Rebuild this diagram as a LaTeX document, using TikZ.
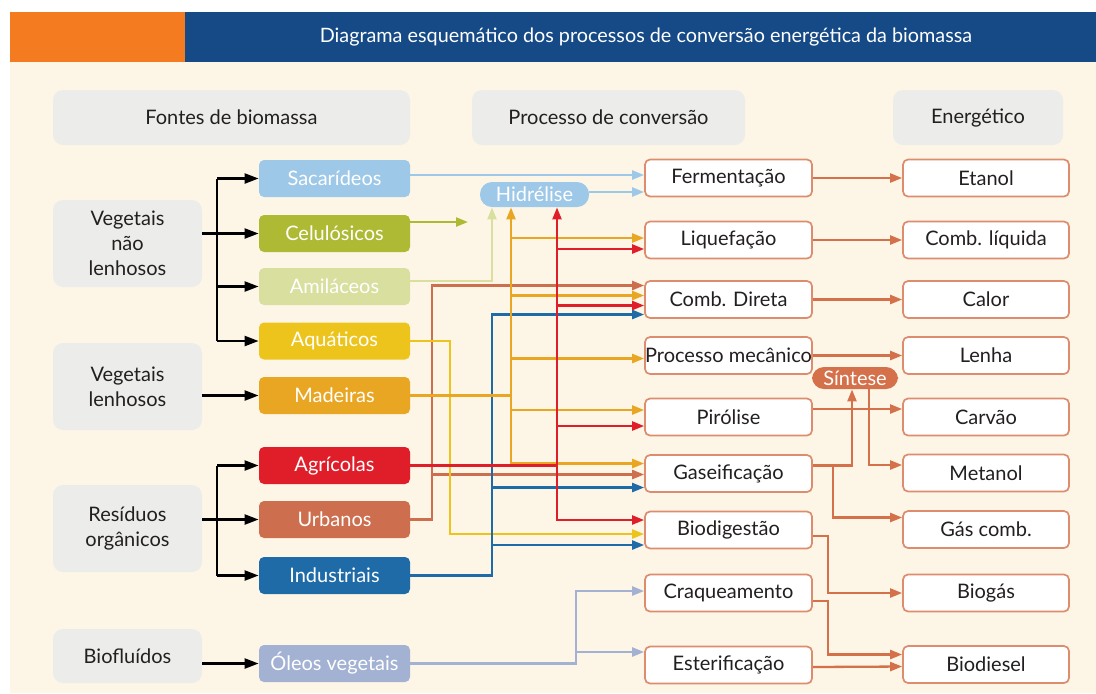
\documentclass[tikz,border=0pt]{standalone}
\usepackage{fontspec}
\setmainfont{Lato}
\usetikzlibrary{arrows.meta}

\definecolor{cream}{HTML}{FDF6E7}
\definecolor{banblue}{HTML}{154A86}
\definecolor{banorange}{HTML}{F47B20}
\definecolor{hdgray}{HTML}{ECEDEA}
\definecolor{ink}{HTML}{231F20}
\definecolor{terra}{HTML}{D4704A}
\definecolor{cSac}{HTML}{9DC8E8}
\definecolor{cCel}{HTML}{AEBA34}
\definecolor{cAmi}{HTML}{D9DF9E}
\definecolor{cAqu}{HTML}{EDC41C}
\definecolor{cMad}{HTML}{E9A623}
\definecolor{cAgr}{HTML}{E01E2A}
\definecolor{cUrb}{HTML}{CD6E4E}
\definecolor{cInd}{HTML}{1F6BA8}
\definecolor{cOle}{HTML}{A3B1D3}

\tikzset{
  lbl/.style={inner sep=0pt, rounded corners=2.5pt, font=\fontsize{10}{12.5}\selectfont, text=ink},
  head/.style={lbl, fill=hdgray, minimum height=27.5pt, rounded corners=5pt},
  grp/.style={lbl, fill=hdgray, minimum width=74.5pt, align=center, rounded corners=5pt},
  src/.style={lbl, text=white, minimum width=75.5pt, minimum height=18.5pt},
  proc/.style={lbl, fill=white, draw=terra!80, line width=0.85pt, minimum width=83.5pt, minimum height=18.5pt},
  prod/.style={proc, minimum width=83pt},
  pill/.style={lbl, text=white, rounded corners=6pt},
  bar/.style={line width=1.15pt},
  flow/.style={line width=1.15pt, -{Triangle[length=6pt,width=4.5pt]}},
  both/.style={line width=1.15pt, {Triangle[length=6pt,width=4.5pt]}-{Triangle[length=6pt,width=4.5pt]}},
  blk/.style={line width=1.15pt, -{Triangle[length=7pt,width=5pt]}},
}

\begin{document}
\begin{tikzpicture}[x=0.5pt,y=-0.5pt]
  \useasboundingbox (0,0) rectangle (1096,693);
  \fill[cream] (10,62) rectangle (1096,693);
  \fill[banorange] (10,12) rectangle (185,62);
  \fill[banblue] (185,12) rectangle (1096,62);
  \node[text=white, font=\fontsize{9.9}{11}\selectfont] (title) at (646,37)
    {Diagrama esquemático dos processos de conversão energética da biomassa};

  % column heads
  \node[head, minimum width=178.5pt] (hsrc) at (231.5,117.5) {Fontes de biomassa};
  \node[head, minimum width=136.5pt] (hproc) at (608.5,117.5) {Processo de conversão};
  \node[head, minimum width=85pt] (hene) at (978,117.5) {Energético};

  % groups
  \node[grp, minimum height=43.5pt] (vnl) at (127.5,243.5) {Vegetais\\não\\lenhosos};
  \node[grp, minimum height=43.5pt] (vl) at (127.5,386.5) {Vegetais\\lenhosos};
  \node[grp, minimum height=43.5pt] (res) at (127.5,528.5) {Resíduos\\orgânicos};
  \node[grp, minimum height=27pt] (bf) at (127.5,656) {Biofluídos};

  % sources
  \node[src, fill=cSac] (sac) at (334.5,178.5) {Sacarídeos};
  \node[src, fill=cCel] (cel) at (334.5,233.5) {Celulósicos};
  \node[src, fill=cAmi] (ami) at (334.5,286.5) {Amiláceos};
  \node[src, fill=cAqu] (aqu) at (334.5,341) {Aquáticos};
  \node[src, fill=cMad] (mad) at (334.5,395.5) {Madeiras};
  \node[src, fill=cAgr] (agr) at (334.5,465.5) {Agrícolas};
  \node[src, fill=cUrb] (urb) at (334.5,519.5) {Urbanos};
  \node[src, fill=cInd] (ind) at (334.5,575.5) {Industriais};
  \node[src, fill=cOle] (ole) at (334.5,663.5) {Óleos vegetais};

  % processes
  \node[proc] (fer) at (728.5,178) {Fermentação};
  \node[proc] (liq) at (728.5,240) {Liquefação};
  \node[proc] (cmb) at (728.5,299.5) {Comb. Direta};
  \node[proc] (mec) at (728.5,355.5) {Processo mecânico};
  \node[proc] (pir) at (728.5,417) {Pirólise};
  \node[proc] (gas) at (728.5,473.5) {Gaseificação};
  \node[proc] (bio) at (728.5,530) {Biodigestão};
  \node[proc] (cra) at (728.5,593) {Craqueamento};
  \node[proc] (est) at (728.5,665) {Esterificação};

  % products
  \node[prod] (eta) at (986,178) {Etanol};
  \node[prod] (cli) at (986,240) {Comb. líquida};
  \node[prod] (cal) at (986,299.5) {Calor};
  \node[prod] (len) at (986,355.5) {Lenha};
  \node[prod] (car) at (986,417) {Carvão};
  \node[prod] (met) at (986,473) {Metanol};
  \node[prod] (gc) at (986,529.5) {Gás comb.};
  \node[prod] (bg) at (986,593) {Biogás};
  \node[prod] (bd) at (986,664.5) {Biodiesel};

  \node[pill, fill=cSac, minimum width=54.5pt, minimum height=12.5pt] (hid) at (534.5,194.5) {Hidrélise};
  \node[pill, fill=terra, minimum width=43pt, minimum height=11pt] (sin) at (855,378) {Síntese};

  % bus columns and arrow ends
  \coordinate (kx) at (217,0);
  \coordinate (tx) at (432,0);
  \coordinate (yx) at (450,0);
  \coordinate (bx) at (492,0);
  \coordinate (ox) at (511,0);
  \coordinate (rx) at (557,0);
  \coordinate (lx) at (576,0);
  \coordinate (jy) at (828,0);
  \coordinate (jx) at (833,0);
  \coordinate (celend) at (468,222);
  \path ([yshift=1.5pt]fer.west) coordinate (fer1) ([yshift=-7pt]fer.west) coordinate (fer2)
        ([yshift=1pt]liq.west) coordinate (liq1) ([yshift=-4.5pt]liq.west) coordinate (liq2)
        ([yshift=7pt]cmb.west) coordinate (cmb1) ([yshift=2pt]cmb.west) coordinate (cmb2)
        ([yshift=-3pt]cmb.west) coordinate (cmb3) ([yshift=-7.5pt]cmb.west) coordinate (cmb4)
        ([yshift=-1.5pt]mec.west) coordinate (mec1)
        ([yshift=3.5pt]pir.west) coordinate (pir1) ([yshift=-4.5pt]pir.west) coordinate (pir2)
        ([yshift=5pt]gas.west) coordinate (gas1) ([yshift=-0.5pt]gas.west) coordinate (gas2)
        ([yshift=-7pt]gas.west) coordinate (gas3)
        ([yshift=5pt]bio.west) coordinate (bio1) ([yshift=-2pt]bio.west) coordinate (bio2)
        ([yshift=-7.5pt]bio.west) coordinate (bio3)
        ([yshift=1pt]cra.west) coordinate (cra1) ([yshift=6.5pt]est.west) coordinate (est1)
        ([yshift=4pt]gas.east) coordinate (gasO) ([yshift=6pt]gc.west) coordinate (gcI)
        ([yshift=5pt]bd.west) coordinate (bdI);

  % black links
  \draw[bar] (kx |- sac.west) -- (kx |- aqu.west);
  \draw[bar] (vnl.east |- cel.west) -- (kx |- cel.west);
  \foreach \n in {sac,cel,ami,aqu} \draw[blk] (kx |- \n.west) -- (\n.west);
  \draw[bar] (kx |- agr.west) -- (kx |- ind.west);
  \draw[bar] (res.east |- urb.west) -- (kx |- urb.west);
  \foreach \n in {agr,urb,ind} \draw[blk] (kx |- \n.west) -- (\n.west);
  \draw[blk] (vl.east |- mad.west) -- (mad.west);
  \draw[blk] (bf.east |- ole.west) -- (ole.west);

  % sources to processes
  \draw[flow, cSac] (sac.east |- fer1) -- (fer1);
  \draw[flow, cSac] (hid.east |- fer2) -- (fer2);
  \draw[flow, cCel] (cel.east |- celend) -- (celend);
  \draw[flow, cAmi] ([yshift=2.75pt]ami.east) -| (bx |- hid.south);
  \draw[flow, cUrb] (urb.east) -| (tx |- cmb1) -- (cmb1);
  \draw[flow, cUrb] (tx |- gas2) -- (gas2);
  \draw[flow, cAqu] (aqu.east) -| (yx |- bio2) -- (bio2);
  \draw[flow, cInd] (ind.east) -| (bx |- cmb4) -- (cmb4);
  \foreach \p in {gas3,bio3} \draw[flow, cInd] (bx |- \p) -- (\p);
  \draw[bar, cMad] (mad.east) -- (ox |- mad.east);
  \draw[both, cMad] (ox |- hid.south) |- (gas1);
  \foreach \p in {liq1,cmb2,mec1,pir1} \draw[flow, cMad] (ox |- \p) -- (\p);
  \draw[bar, cAgr] (agr.east) -- (rx |- agr.east);
  \draw[both, cAgr] (rx |- hid.south) |- (bio1);
  \foreach \p in {liq2,cmb3,pir2} \draw[flow, cAgr] (rx |- \p) -- (\p);
  \draw[flow, cOle] (ole.east) -| (lx |- cra1) -- (cra1);
  \draw[flow, cOle] (lx |- est1) -- (est1);

  % processes to products
  \foreach \a/\b in {fer/eta,liq/cli,cmb/cal,mec/len} \draw[flow, terra] (\a.east) -- (\b.west);
  \draw[flow, terra] ([yshift=4pt]pir.east) -- ([yshift=4pt]car.west);
  \draw[flow, terra] (gasO) -| ([xshift=-1.5pt]sin.south);
  \draw[flow, terra] (gasO -| jx) |- (gcI);
  \draw[flow, terra] ([xshift=7pt]sin.south) |- ([yshift=4pt]met.west);
  \draw[flow, terra] ([yshift=-3pt]bio.east) -| (jy |- bg.west) -- (bg.west);
  \draw[flow, terra] ([yshift=-4pt]cra.east) -| (jy |- bdI) -- (bdI);
  \draw[flow, terra] ([yshift=-1pt]est.east) -- ([yshift=-1pt]bd.west);
\end{tikzpicture}
\end{document}
